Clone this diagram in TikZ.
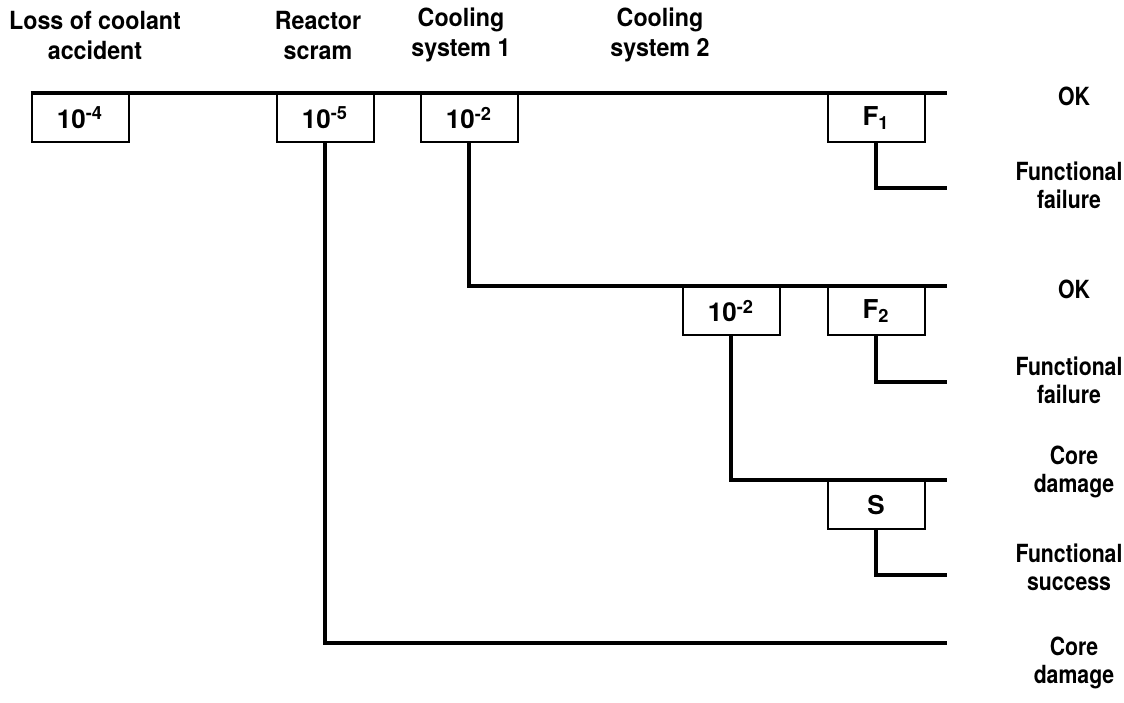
\documentclass[tikz,border=0pt]{standalone}
\usepackage{fontspec}
\setmainfont{TeX Gyre Heros}
\newfontfamily\narrowheros[FakeStretch=0.85]{TeX Gyre Heros}
\newfontfamily\headheros[FakeStretch=0.93]{TeX Gyre Heros}
\usetikzlibrary{positioning}

\begin{document}
\begin{tikzpicture}[
    x=0.5pt, y=-0.5pt,
    probbox/.style={draw, line width=1pt, fill=white, anchor=north,
      minimum width=48.5pt, minimum height=24pt, inner sep=0pt,
      font=\fontsize{13}{15}\selectfont\bfseries},
    branch/.style={line width=1.9pt},
    header/.style={align=center, font=\headheros\fontsize{12.5}{15}\selectfont\bfseries},
    outcome/.style={align=center, font=\narrowheros\fontsize{12.5}{14}\selectfont\bfseries}
  ]
    \useasboundingbox (0,0) rectangle (1124,702);
    % column headers
    \node[header] (hLoca)  at (95,35)  {Loss of coolant\\accident};
    \node[header] (hScram) at (318,35) {Reactor\\scram};
    \node[header] (hCool1) at (461,35) {Cooling\\system 1};
    \node[header] (hCool2) at (660,35) {Cooling\\system 2};
    % probability boxes
    \node[probbox] (pLoca)  at (80,93)   {10\textsuperscript{-4}};
    \node[probbox] (pScram) at (325,93)  {10\textsuperscript{-5}};
    \node[probbox] (pCool1) at (469,93)  {10\textsuperscript{-2}};
    \node[probbox] (pCool2) at (731,286) {10\textsuperscript{-2}};
    \node[probbox] (fOne)   at (876,93)  {F\textsubscript{1}};
    \node[probbox] (fTwo)   at (876,286) {F\textsubscript{2}};
    \node[probbox] (sBox)   at (876,480) {S};
    % branch ends
    \coordinate (eOkA)   at (947,93);
    \coordinate (eFailA) at (947,188);
    \coordinate (eOkB)   at (947,286);
    \coordinate (eFailB) at (947,382);
    \coordinate (eCoreA) at (947,480);
    \coordinate (eSucc)  at (947,575);
    \coordinate (eCoreB) at (947,643);
    % branches
    \draw[branch] (pLoca.north west) -- (eOkA);
    \draw[branch] (fOne.south) |- (eFailA);
    \draw[branch] (pCool1.south) |- (eOkB);
    \draw[branch] (fTwo.south) |- (eFailB);
    \draw[branch] (pCool2.south) |- (eCoreA);
    \draw[branch] (sBox.south) |- (eSucc);
    \draw[branch] (pScram.south) |- (eCoreB);
    % outcomes
    \node[outcome] (oOkA)   at (1074,96)  {OK};
    \node[outcome] (oFailA) at (1069,185) {Functional\\failure};
    \node[outcome] (oOkB)   at (1074,289) {OK};
    \node[outcome] (oFailB) at (1069,380) {Functional\\failure};
    \node[outcome] (oCoreA) at (1074,472) {Core\\damage};
    \node[outcome] (oSucc)  at (1069,567) {Functional\\success};
    \node[outcome] (oCoreB) at (1074,663) {Core\\damage};
\end{tikzpicture}
\end{document}
